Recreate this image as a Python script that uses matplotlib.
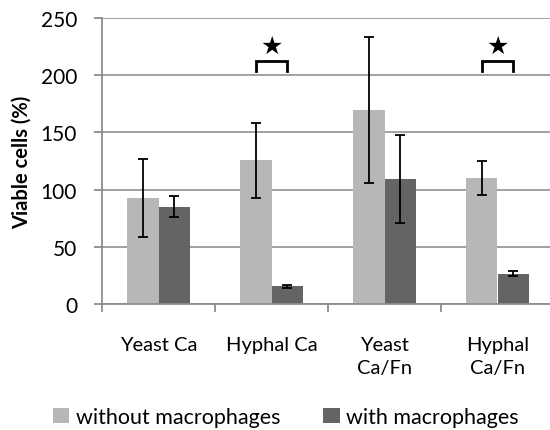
import numpy as np
import matplotlib
matplotlib.use("Agg")
import matplotlib.pyplot as plt

categories = ["Yeast Ca", "Hyphal Ca", "Yeast\nCa/Fn", "Hyphal\nCa/Fn"]
without_mac = [92.5, 125.5, 169.5, 110]
without_err = [34, 33, 64, 15]
with_mac = [85, 15.5, 109.5, 26.5]
with_err = [9, 1.5, 38.5, 2]
significant = [False, True, False, True]
legend_labels = ["without macrophages", "with macrophages"]

plt.rcParams['font.family'] = ['Lato', 'DejaVu Sans']

light = "#b7b7b7"
dark = "#646464"
axis_gray = "#8c8c8c"

fig = plt.figure(figsize=(5.5, 4.31), dpi=100)
ax = fig.add_axes([102 / 550, 1 - 305 / 431, 452 / 550, 286 / 431])

x = np.arange(len(categories))
w = 0.283
ax.bar(x - w / 2, without_mac, w, color=light, label=legend_labels[0], zorder=2)
ax.bar(x + w / 2, with_mac, w, color=dark, label=legend_labels[1], zorder=2)
ekw = dict(fmt="none", ecolor="black", elinewidth=1.3, capsize=3.5, capthick=1.3, zorder=3)
ax.errorbar(x - w / 2, without_mac, yerr=without_err, **ekw)
ax.errorbar(x + w / 2, with_mac, yerr=with_err, **ekw)

# significance brackets + stars
for i, sig in enumerate(significant):
    if not sig:
        continue
    x0, x1 = i - w / 2, i + w / 2
    ax.plot([x0, x0, x1, x1], [204, 212, 212, 204], color="black", lw=2,
            solid_joinstyle="miter", zorder=4, clip_on=False)
    ax.text(i, 215, "\u2605", ha="center", va="bottom", fontsize=18,
            family="DejaVu Sans", color="black")

ax.set_xlim(-0.5, len(categories) - 0.5)
ax.set_ylim(0, 250)
ax.set_yticks(np.arange(0, 251, 50))
ax.yaxis.grid(True, color="#9a9a9a", lw=1.3, zorder=0)
ax.set_axisbelow(True)

for s in ["top", "right"]:
    ax.spines[s].set_visible(False)
for s in ["left", "bottom"]:
    ax.spines[s].set_color(axis_gray)
    ax.spines[s].set_linewidth(1.3)

ax.set_xticks(x)
ax.set_xticklabels(categories, fontsize=14.5, linespacing=1.4, va="top")
ax.tick_params(axis="x", which="major", length=0, pad=23)
ax.set_xticks(np.arange(-0.5, len(categories), 1), minor=True)
ax.tick_params(axis="x", which="minor", length=6, width=1.3, color=axis_gray, direction="out")
ax.tick_params(axis="y", length=6, width=1.3, color=axis_gray, pad=12, labelsize=15)

ax.set_ylabel("Viable cells (%)", fontsize=14.5, fontweight="bold")
ax.yaxis.set_label_coords(-0.155, 0.5)

fig.legend(loc="center", bbox_to_anchor=(0.52, 1 - 418 / 431), ncol=2, frameon=False,
           fontsize=15.5, handlelength=0.75, handleheight=0.75, handletextpad=0.3,
           columnspacing=2.0)

fig.savefig("out.png", dpi=100)
